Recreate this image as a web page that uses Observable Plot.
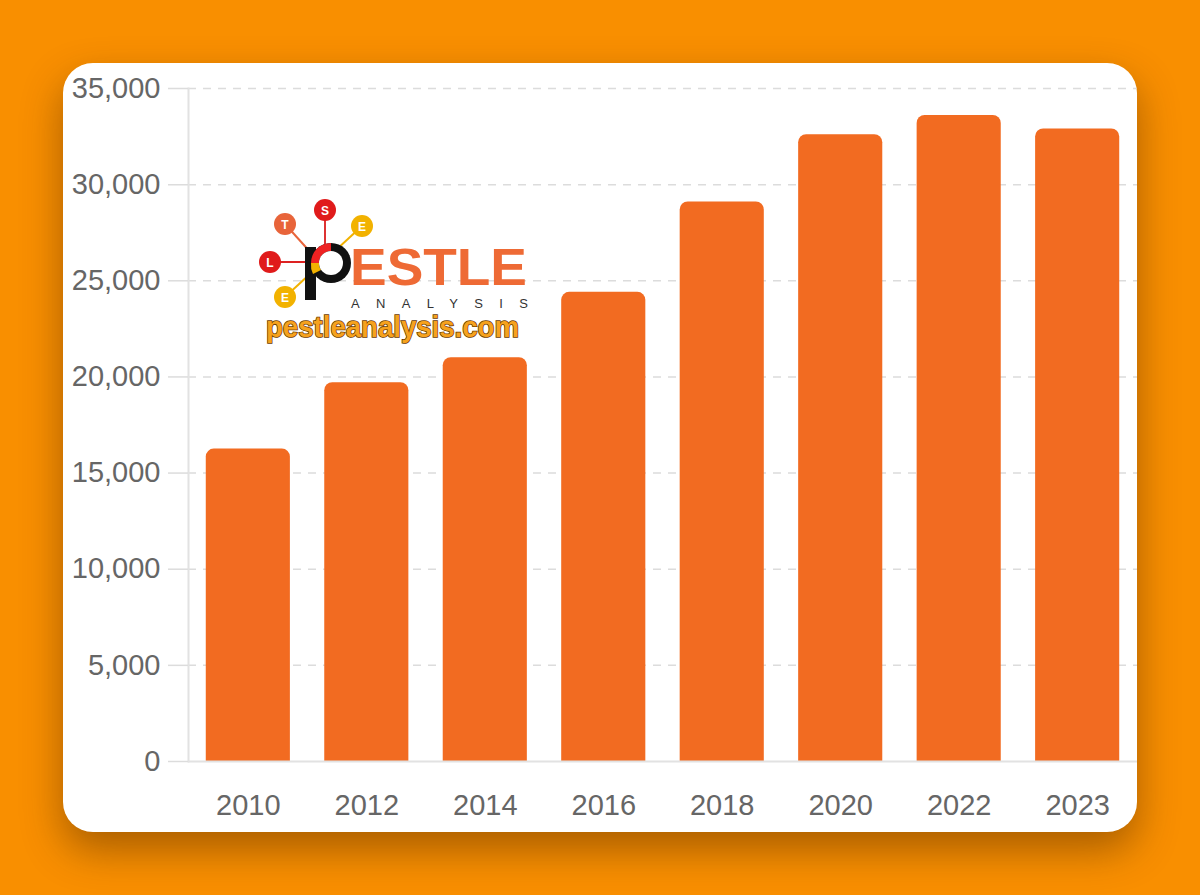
<!DOCTYPE html>
<html>
<head>
<meta charset="utf-8">
<script src="https://cdn.jsdelivr.net/npm/d3@7"></script>
<script src="https://cdn.jsdelivr.net/npm/@observablehq/plot@0.6"></script>
<style>
  html, body { margin: 0; padding: 0; }
  body { width: 1200px; height: 895px; background: #F98F00; position: relative; overflow: hidden; font-family: "Liberation Sans", Arial, sans-serif; }
  #card { position: absolute; left: 63px; top: 63px; width: 1074px; height: 769px; background: #fff; border-radius: 30px; box-shadow: 0 18px 40px rgba(70,35,0,0.45); overflow: hidden; }
  #logo { position: absolute; left: 0; top: 0; pointer-events: none; }
</style>
</head>
<body>
<div id="card"></div>
<svg id="logo" width="1200" height="895" xmlns="http://www.w3.org/2000/svg"></svg>
<script>
const years = ["2010", "2012", "2014", "2016", "2018", "2020", "2022", "2023"];
const values = [16250, 19700, 21000, 24400, 29100, 32600, 33600, 32900];
const yTicks = [0, 5000, 10000, 15000, 20000, 25000, 30000, 35000];

const data = years.map((year, i) => ({year, value: values[i]}));

const chart = Plot.plot({
  width: 1074,
  height: 769,
  marginLeft: 125,
  marginRight: 0,
  marginTop: 25,
  marginBottom: 71,
  style: {fontFamily: "'Liberation Sans', Arial, sans-serif", fontSize: "29px", color: "#666", background: "transparent", overflow: "visible"},
  x: {domain: years, paddingInner: 0.29, paddingOuter: 0.15, round: false, label: null},
  y: {domain: [0, 35000], label: null},
  marks: [
    Plot.ruleY(yTicks.slice(1), {stroke: "#dcdcdc", strokeWidth: 1.5, strokeDasharray: "8,7"}),
    Plot.barY(data, {x: "year", y: "value", fill: "#F26B21", ry1: 8}),
    Plot.ruleY([0], {stroke: "#e2e2e2", strokeWidth: 2}),
    Plot.frame({anchor: "left", stroke: "#e2e2e2", strokeWidth: 2}),
    Plot.axisY({ticks: yTicks, tickFormat: d3.format(","), tickSize: 20, tickPadding: 8, stroke: "#dcdcdc", strokeWidth: 1.5, fill: "#666", label: null}),
    Plot.axisX({tickSize: 0, tickPadding: 33, fill: "#666", label: null})
  ]
});
document.getElementById("card").appendChild(chart);

// Watermark logo (decoration)
const ns = "http://www.w3.org/2000/svg";
const logo = document.getElementById("logo");
function el(tag, attrs, text) {
  const e = document.createElementNS(ns, tag);
  for (const k in attrs) e.setAttribute(k, attrs[k]);
  if (text != null) e.textContent = text;
  logo.appendChild(e);
  return e;
}
// connector lines
el("line", {x1: 325, y1: 210, x2: 325, y2: 248, stroke: "#d33", "stroke-width": 2});
el("line", {x1: 285, y1: 224, x2: 312, y2: 254, stroke: "#e8643a", "stroke-width": 2});
el("line", {x1: 270, y1: 262, x2: 306, y2: 262, stroke: "#d22", "stroke-width": 2});
el("line", {x1: 362, y1: 226, x2: 285, y2: 297, stroke: "#f2b200", "stroke-width": 2});
// P glyph
el("rect", {x: 305, y: 247, width: 11, height: 53, fill: "#111"});
el("circle", {cx: 331, cy: 263, r: 20, fill: "#111"});
el("path", {d: "M311,263 A20,20 0 0 1 331,243 L331,251 A12,12 0 0 0 319,263 Z", fill: "#e22"});
el("path", {d: "M311,263 L319,263 A12,12 0 0 0 321,270 L313,274 A20,20 0 0 1 311,263 Z", fill: "#f2b200"});
el("circle", {cx: 331, cy: 263, r: 12, fill: "#fff"});
// circles with letters
const dots = [
  {cx: 285, cy: 224, fill: "#E8643A", t: "T"},
  {cx: 325, cy: 210, fill: "#E01B1B", t: "S"},
  {cx: 362, cy: 226, fill: "#F2B200", t: "E"},
  {cx: 270, cy: 262, fill: "#E01B1B", t: "L"},
  {cx: 285, cy: 297, fill: "#F2B200", t: "E"}
];
for (const d of dots) {
  el("circle", {cx: d.cx, cy: d.cy, r: 11, fill: d.fill});
  el("text", {x: d.cx, y: d.cy + 4.5, "text-anchor": "middle", "font-size": 12, "font-weight": "bold", fill: "#fff", "font-family": "'Liberation Sans', Arial"}, d.t);
}
el("text", {x: 350, y: 285, "font-size": 52, "font-weight": "bold", fill: "#EE6A35", "font-family": "'Liberation Sans', Arial", textLength: 177, lengthAdjust: "spacingAndGlyphs"}, "ESTLE");
el("text", {x: 351, y: 308, "font-size": 13, fill: "#333", "font-family": "'Liberation Sans', Arial", textLength: 177, lengthAdjust: "spacing"}, "ANALYSIS");
el("text", {x: 266, y: 337, "font-size": 30, "font-weight": "bold", fill: "#F6A21E", stroke: "#6a3a00", "stroke-width": 1.6, "paint-order": "stroke", "font-family": "'Liberation Sans', Arial", textLength: 253, lengthAdjust: "spacingAndGlyphs"}, "pestleanalysis.com");
</script>
</body>
</html>
